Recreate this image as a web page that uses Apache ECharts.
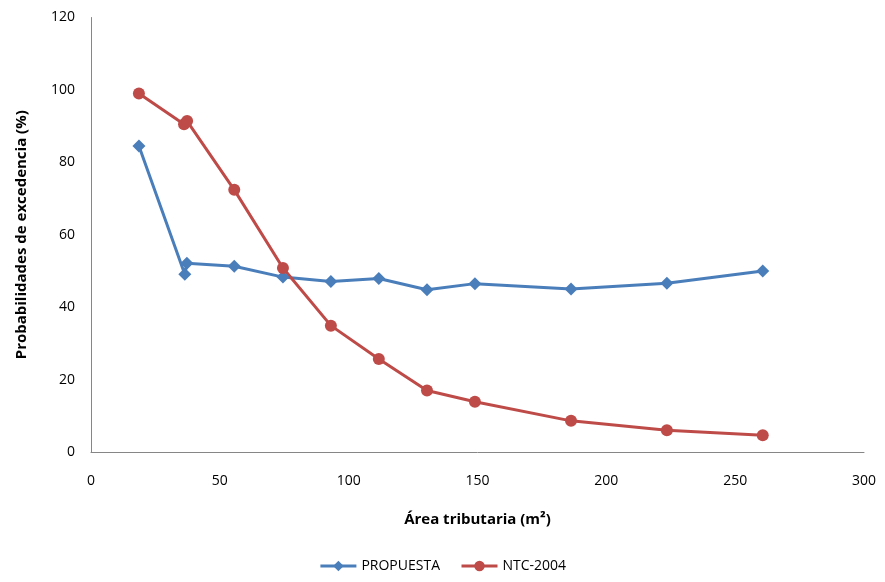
<!DOCTYPE html>
<html><head><meta charset="utf-8">
<script src="https://cdn.jsdelivr.net/npm/echarts@6/dist/echarts.min.js"></script>
<style>html,body{margin:0;padding:0;background:#fff}#c{width:885px;height:582px}</style>
</head><body><div id="c"></div>
<script>
const propuestaX = [18.6, 36.4, 37.2, 55.6, 74.5, 93.1, 111.7, 130.4, 149.0, 186.3, 223.5, 260.7];
const propuestaY = [84.5, 49.1, 52.1, 51.3, 48.3, 47.1, 47.9, 44.8, 46.5, 45.0, 46.6, 50.0];
const ntcX = [18.6, 36.1, 37.3, 55.6, 74.5, 93.1, 111.7, 130.4, 149.0, 186.3, 223.5, 260.7];
const ntcY = [99.0, 90.5, 91.4, 72.4, 50.8, 34.9, 25.7, 17.0, 13.9, 8.6, 6.0, 4.6];
const xTicks = [0, 50, 100, 150, 200, 250, 300];
const yTicks = [0, 20, 40, 60, 80, 100, 120];

const font = '"Liberation Sans Narrow", "Open Sans", sans-serif';
const chart = echarts.init(document.getElementById('c'));
const pair = (xs, ys) => xs.map((x, i) => [x, ys[i]]);
chart.setOption({
  animation: false,
  textStyle: { fontFamily: font },
  grid: { left: 91, right: 21, top: 17.5, bottom: 130 },
  xAxis: {
    type: 'value', min: xTicks[0], max: xTicks[xTicks.length - 1], interval: 50,
    name: 'Área tributaria (m²)', nameLocation: 'middle', nameGap: 60,
    nameTextStyle: { fontFamily: font, fontSize: 15, fontWeight: 'bold', color: '#000' },
    axisLine: { show: true, lineStyle: { color: '#868686', width: 1 } },
    axisTick: { show: false },
    splitLine: { show: false },
    axisLabel: { fontFamily: font, fontSize: 14, color: '#000', margin: 22 }
  },
  yAxis: {
    type: 'value', min: yTicks[0], max: yTicks[yTicks.length - 1], interval: 20,
    name: 'Probabilidades de excedencia (%)', nameLocation: 'middle', nameGap: 62,
    nameTextStyle: { fontFamily: font, fontSize: 15, fontWeight: 'bold', color: '#000' },
    axisLine: { show: true, lineStyle: { color: '#868686', width: 1 } },
    axisTick: { show: false },
    splitLine: { show: false },
    axisLabel: { fontFamily: font, fontSize: 14, color: '#000', margin: 16 }
  },
  legend: {
    bottom: 4, left: 'center', itemWidth: 36, itemHeight: 13, itemGap: 20,
    lineStyle: { width: 3 },
    textStyle: { fontFamily: font, fontSize: 14, color: '#000' },
    data: ['PROPUESTA', 'NTC-2004']
  },
  series: [
    { name: 'PROPUESTA', type: 'line', data: pair(propuestaX, propuestaY),
      symbol: 'diamond', symbolSize: 13,
      lineStyle: { color: '#4A7EBB', width: 3 }, itemStyle: { color: '#4A7EBB' } },
    { name: 'NTC-2004', type: 'line', data: pair(ntcX, ntcY),
      symbol: 'circle', symbolSize: 12,
      lineStyle: { color: '#BE4B48', width: 3 }, itemStyle: { color: '#BE4B48' } }
  ]
});
</script></body></html>
